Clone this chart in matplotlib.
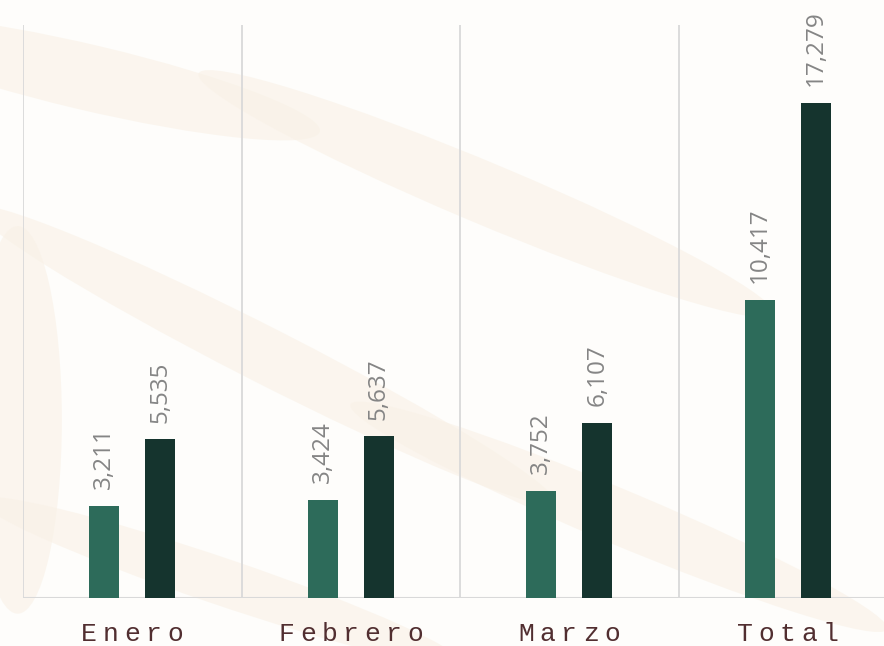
import matplotlib
matplotlib.use("Agg")
import matplotlib.pyplot as plt
from matplotlib.patches import Ellipse
import numpy as np

categories = ["Enero", "Febrero", "Marzo", "Total"]
serie_a = [3211, 3424, 3752, 10417]
serie_b = [5535, 5637, 6107, 17279]

W, H = 884, 646
fig = plt.figure(figsize=(W / 100, H / 100), dpi=100)
fig.patch.set_facecolor("#fefdfb")

# faint watermark-like background bands in a separate background axes
bg = fig.add_axes([0, 0, 1, 1], zorder=-10)
bg.set_xlim(0, 1)
bg.set_ylim(0, 1)
bg.axis("off")
bands = [
    ((0.10, 0.88), 0.55, 0.10, -18),
    ((0.55, 0.70), 0.75, 0.09, -30),
    ((0.30, 0.45), 0.80, 0.08, -35),
    ((0.02, 0.35), 0.10, 0.60, 0),
    ((0.70, 0.20), 0.70, 0.08, -30),
    ((0.25, 0.10), 0.60, 0.07, -25),
]
for (cx, cy), w, h, ang in bands:
    bg.add_patch(Ellipse((cx, cy), w, h, angle=ang, color="#f9f1e6", alpha=0.6, lw=0))

left_px, right_px, top_px, bot_px = 23, 897, 25, 598
ax = fig.add_axes([left_px / W, (H - bot_px) / H, (right_px - left_px) / W, (bot_px - top_px) / H])
ax.set_facecolor("none")

x = np.arange(len(categories))
bw = 0.137
off = 0.128
ax.bar(x - off, serie_a, width=bw, color="#2d6b5a", zorder=3)
ax.bar(x + off, serie_b, width=bw, color="#15342e", zorder=3)

ax.set_xlim(-0.5, len(categories) - 0.5)
ax.set_ylim(0, 20000)

for b in np.arange(-0.5, len(categories), 1.0):
    ax.axvline(b, color="#d9d9d9", lw=1.3, zorder=1)
ax.axhline(0, color="#d9d9d9", lw=1.5, zorder=2)

for s in ax.spines.values():
    s.set_visible(False)
ax.set_xticks([])
ax.set_yticks([])

for xs, vals in ((x - off, serie_a), (x + off, serie_b)):
    for xi, v in zip(xs, vals):
        ax.annotate(f"{v:,}", xy=(xi, v), xytext=(0, 12), textcoords="offset points",
                    rotation=90, ha="center", va="bottom", fontsize=17.5,
                    family="Open Sans", color="#858585")

pitch = 21.5
for xi, name in zip(x, categories):
    n = len(name)
    for i, ch in enumerate(name):
        ax.annotate(ch, xy=(xi, 0), xycoords="data",
                    xytext=((i - (n - 1) / 2) * pitch, -36), textcoords="offset pixels",
                    ha="center", va="center", fontsize=19, family="Liberation Mono",
                    color="#512e30", annotation_clip=False)

fig.savefig("out.png", dpi=100, facecolor=fig.get_facecolor())
